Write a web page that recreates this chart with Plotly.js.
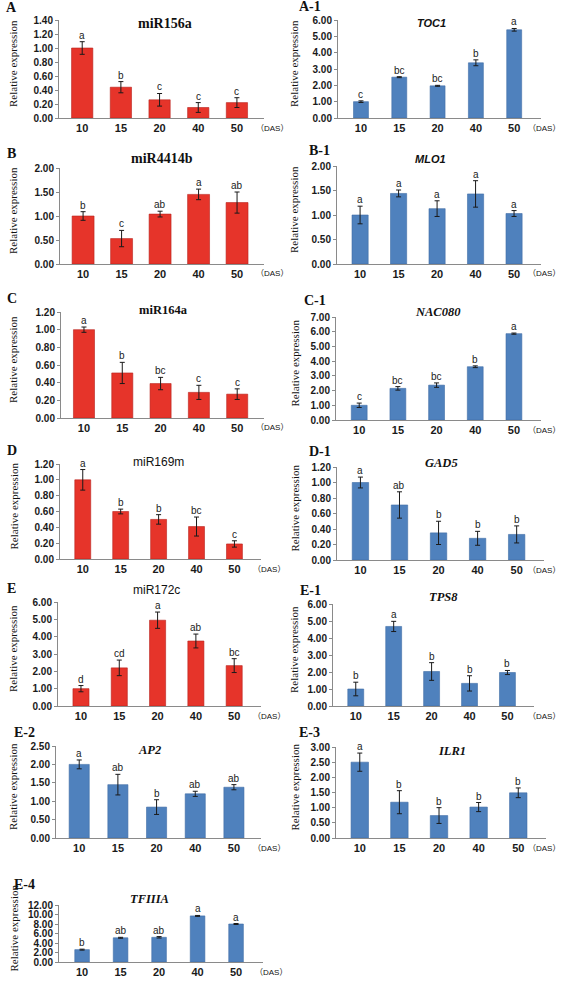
<!DOCTYPE html>
<html><head><meta charset="utf-8">
<script src="https://cdn.plot.ly/plotly-3.0.1.min.js"></script>
<style>html,body{margin:0;padding:0;background:#fff}#chart{width:562px;height:992px}</style>
</head><body><div id="chart"></div>
<script>
// ---------------- DATA ----------------
const days = ['10', '15', '20', '40', '50'];

const miR156a_values = [1.00, 0.44, 0.26, 0.15, 0.22];
const miR156a_errors = [0.09, 0.08, 0.09, 0.07, 0.07];
const miR156a_letters = ['a', 'b', 'c', 'c', 'c'];

const TOC1_values = [1.00, 2.50, 1.97, 3.38, 5.40];
const TOC1_errors = [0.05, 0.03, 0.03, 0.18, 0.08];
const TOC1_letters = ['c', 'bc', 'bc', 'b', 'a'];

const miR4414b_values = [1.00, 0.53, 1.04, 1.45, 1.28];
const miR4414b_errors = [0.09, 0.17, 0.06, 0.11, 0.22];
const miR4414b_letters = ['b', 'c', 'ab', 'a', 'ab'];

const MLO1_values = [1.00, 1.44, 1.13, 1.43, 1.03];
const MLO1_errors = [0.18, 0.07, 0.16, 0.27, 0.06];
const MLO1_letters = ['a', 'a', 'a', 'a', 'a'];

const miR164a_values = [1.00, 0.51, 0.39, 0.29, 0.27];
const miR164a_errors = [0.03, 0.12, 0.07, 0.08, 0.06];
const miR164a_letters = ['a', 'b', 'bc', 'c', 'c'];

const NAC080_values = [1.00, 2.15, 2.37, 3.62, 5.87];
const NAC080_errors = [0.15, 0.12, 0.15, 0.06, 0.04];
const NAC080_letters = ['c', 'bc', 'bc', 'b', 'a'];

const miR169m_values = [1.00, 0.60, 0.50, 0.41, 0.19];
const miR169m_errors = [0.13, 0.03, 0.06, 0.12, 0.04];
const miR169m_letters = ['a', 'b', 'b', 'bc', 'c'];

const GAD5_values = [1.00, 0.71, 0.35, 0.28, 0.33];
const GAD5_errors = [0.07, 0.17, 0.15, 0.09, 0.11];
const GAD5_letters = ['a', 'ab', 'b', 'b', 'b'];

const miR172c_values = [1.00, 2.20, 4.95, 3.75, 2.33];
const miR172c_errors = [0.18, 0.45, 0.47, 0.40, 0.40];
const miR172c_letters = ['d', 'cd', 'a', 'ab', 'bc'];

const TPS8_values = [1.00, 4.68, 2.03, 1.33, 1.97];
const TPS8_errors = [0.40, 0.30, 0.52, 0.45, 0.12];
const TPS8_letters = ['b', 'a', 'b', 'b', 'b'];

const AP2_values = [2.00, 1.45, 0.84, 1.20, 1.38];
const AP2_errors = [0.12, 0.28, 0.20, 0.07, 0.07];
const AP2_letters = ['a', 'ab', 'b', 'ab', 'ab'];

const ILR1_values = [2.50, 1.18, 0.74, 1.02, 1.49];
const ILR1_errors = [0.30, 0.38, 0.26, 0.15, 0.16];
const ILR1_letters = ['a', 'b', 'b', 'b', 'b'];

const TFIIIA_values = [2.60, 5.10, 5.20, 9.70, 8.00];
const TFIIIA_errors = [0.10, 0.10, 0.15, 0.10, 0.10];
const TFIIIA_letters = ['b', 'ab', 'ab', 'a', 'a'];

const yTitle = 'Relative expression';
const dasLabel = '（DAS）';

// ---------------- PANELS (data + styling) ----------------
const RED = '#E6342A', REDLINE = '#B8221C', BLUE = '#4F81BD', BLUELINE = '#3F6DA6';
const SERIF = 'Liberation Serif, Times New Roman, serif';
const SANS = 'Liberation Sans, Arial, sans-serif';

const panels = [
  {label:'A',   title:'miR156a',  v:miR156a_values,  e:miR156a_errors,  l:miR156a_letters,  ymax:1.4, dtick:0.2, color:RED,  line:REDLINE,  bw:0.55,
   tf:{family:SERIF, size:14, weight:'bold'}, tx:165, ty:23, lx:4, ly:8, box:[59,264,20,118]},
  {label:'A-1', title:'<i>TOC1</i>', v:TOC1_values, e:TOC1_errors, l:TOC1_letters, ymax:6, dtick:1, color:BLUE, line:BLUELINE, bw:0.39,
   tf:{family:SANS, size:11, weight:'bold'}, tx:431, ty:23, lx:297, ly:6, box:[338,541,20,118]},
  {label:'B',   title:'miR4414b', v:miR4414b_values, e:miR4414b_errors, l:miR4414b_letters, ymax:2, dtick:0.5, color:RED, line:REDLINE, bw:0.57,
   tf:{family:SERIF, size:14, weight:'bold'}, tx:162, ty:158, lx:5, ly:153, box:[60,264,168,264]},
  {label:'B-1', title:'<i>MLO1</i>', v:MLO1_values, e:MLO1_errors, l:MLO1_letters, ymax:2, dtick:0.5, color:BLUE, line:BLUELINE, bw:0.42,
   tf:{family:SANS, size:11, weight:'bold'}, tx:430, ty:159, lx:307, ly:150, box:[337,541,166,264]},
  {label:'C',   title:'miR164a',  v:miR164a_values,  e:miR164a_errors,  l:miR164a_letters,  ymax:1.2, dtick:0.2, color:RED, line:REDLINE, bw:0.55,
   tf:{family:SERIF, size:12.5, weight:'bold'}, tx:163, ty:310, lx:5, ly:298, box:[61,264,312,418]},
  {label:'C-1', title:'<i>NAC080</i>', v:NAC080_values, e:NAC080_errors, l:NAC080_letters, ymax:7, dtick:1, color:BLUE, line:BLUELINE, bw:0.41,
   tf:{family:SERIF, size:12.5, weight:'bold'}, tx:438, ty:312, lx:302, ly:300, box:[336,541,317,420]},
  {label:'D',   title:'miR169m',  v:miR169m_values,  e:miR169m_errors,  l:miR169m_letters,  ymax:1.2, dtick:0.2, color:RED, line:REDLINE, bw:0.42,
   tf:{family:SANS, size:12}, tx:158, ty:462, lx:5, ly:450, box:[60,261,464,559]},
  {label:'D-1', title:'<i>GAD5</i>', v:GAD5_values, e:GAD5_errors, l:GAD5_letters, ymax:1.2, dtick:0.2, color:BLUE, line:BLUELINE, bw:0.42,
   tf:{family:SERIF, size:12.5, weight:'bold'}, tx:441, ty:463, lx:307, ly:452, box:[337,544,467,560]},
  {label:'E',   title:'miR172c',  v:miR172c_values,  e:miR172c_errors,  l:miR172c_letters,  ymax:6, dtick:1, color:RED, line:REDLINE, bw:0.42,
   tf:{family:SANS, size:12}, tx:156, ty:590, lx:5, ly:588, box:[58,261,602,706]},
  {label:'E-1', title:'<i>TPS8</i>', v:TPS8_values, e:TPS8_errors, l:TPS8_letters, ymax:6, dtick:1, color:BLUE, line:BLUELINE, bw:0.42,
   tf:{family:SERIF, size:12.5, weight:'bold'}, tx:443, ty:597, lx:298, ly:590, box:[333,534,604,706]},
  {label:'E-2', title:'<i>AP2</i>', v:AP2_values, e:AP2_errors, l:AP2_letters, ymax:2.5, dtick:0.5, color:BLUE, line:BLUELINE, bw:0.52,
   tf:{family:SERIF, size:12.5, weight:'bold'}, tx:150, ty:750, lx:12, ly:732, box:[56,261,746,838]},
  {label:'E-3', title:'<i>ILR1</i>', v:ILR1_values, e:ILR1_errors, l:ILR1_letters, ymax:3, dtick:0.5, color:BLUE, line:BLUELINE, bw:0.44,
   tf:{family:SERIF, size:12.5, weight:'bold'}, tx:452, ty:751, lx:297, ly:732, box:[336,546,747,838]},
  {label:'E-4', title:'<i>TFIIIA</i>', v:TFIIIA_values, e:TFIIIA_errors, l:TFIIIA_letters, ymax:12, dtick:2, color:BLUE, line:BLUELINE, bw:0.38,
   tf:{family:SERIF, size:12.5, weight:'bold'}, tx:150, ty:899, lx:12, ly:884, box:[59,263,905,962]}
];

// ---------------- BUILD ----------------
const W = 562, H = 992;
const fx = p => p / W, fy = p => 1 - p / H;
const traces = [], annotations = [];
const layout = {
  width: W, height: H, margin: {l:0, r:0, t:0, b:0},
  paper_bgcolor: '#fff', plot_bgcolor: 'rgba(0,0,0,0)',
  showlegend: false, font: {family: SANS, color: '#1a1a1a'}
};

panels.forEach((p, i) => {
  const n = i + 1, xa = n === 1 ? 'x' : 'x' + n, ya = n === 1 ? 'y' : 'y' + n;
  const [x0, x1, yt, yb] = p.box;
  traces.push({
    type: 'bar', x: days, y: p.v, xaxis: xa, yaxis: ya, width: p.bw,
    marker: {color: p.color, line: {color: p.line, width: 0.6}},
    error_y: {type: 'data', array: p.e, visible: true, color: '#1a1a1a', thickness: 1, width: 2.5},
    hoverinfo: 'skip'
  });
  const suffix = n === 1 ? '' : String(n);
  layout['xaxis' + suffix] = {
    domain: [fx(x0), fx(x1)], anchor: ya, type: 'category', range: [-0.6, 4.7],
    showline: true, linecolor: '#8a8a8a', linewidth: 1, ticks: '', showgrid: false, zeroline: false,
    tickfont: {family: SANS, size: 11, weight: 'bold', color: '#1a1a1a'}, fixedrange: true
  };
  layout['yaxis' + suffix] = {
    domain: [fy(yb), fy(yt)], anchor: xa, range: [0, p.ymax], dtick: p.dtick, tickformat: '.2f',
    showline: true, linecolor: '#8a8a8a', linewidth: 1, ticks: 'outside', ticklen: 3, tickcolor: '#8a8a8a',
    showgrid: false, zeroline: false,
    tickfont: {family: SANS, size: 10, weight: 'bold', color: '#1a1a1a'}, fixedrange: true
  };
  // panel title
  annotations.push({xref:'paper', yref:'paper', x: fx(p.tx), y: fy(p.ty), text: p.title, showarrow:false,
    xanchor:'center', yanchor:'middle', font: Object.assign({color:'#111'}, p.tf)});
  // panel label
  annotations.push({xref:'paper', yref:'paper', x: fx(p.lx), y: fy(p.ly), text: p.label, showarrow:false,
    xanchor:'left', yanchor:'middle', font:{family: SERIF, size: 14, weight:'bold', color:'#111'}});
  // y axis title
  const left = x0 < 281;
  annotations.push({xref:'paper', yref:'paper', x: fx(left ? 13 : 294), y: fy((yt + yb) / 2 - 5), text: yTitle,
    textangle: -90, showarrow:false, xanchor:'center', yanchor:'middle', font:{family: SERIF, size: 11, color:'#111'}});
  // DAS unit
  annotations.push({xref:'paper', yref:'paper', x: left ? fx(x1 - 9) : fx(561), y: fy(yb + 10), text: dasLabel, showarrow:false,
    xanchor: left ? 'left' : 'right', yanchor:'middle', borderpad: 0,
    font:{family: SANS + ', Noto Sans CJK SC', size: 8, color:'#111'}});
  // significance letters (x given as category index)
  p.l.forEach((t, k) => {
    annotations.push({xref: xa, yref: ya, x: k, y: p.v[k] + p.e[k], text: t, showarrow:false,
      xanchor:'center', yanchor:'bottom', yshift: -1, font:{family: SANS, size: 10, color:'#222'}});
  });
});
layout.annotations = annotations;
Plotly.newPlot('chart', traces, layout, {staticPlot: true, displayModeBar: false});
</script></body></html>
